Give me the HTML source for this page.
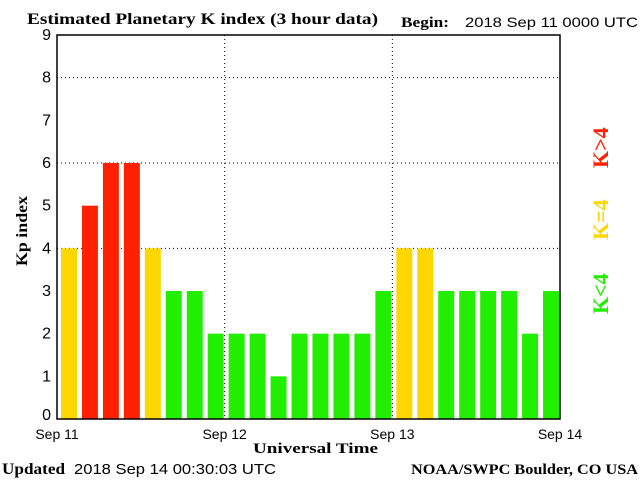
<!DOCTYPE html>
<html><head><meta charset="utf-8"><style>
body{margin:0;background:#fff;width:640px;height:480px;overflow:hidden}
svg text{font-family:"Liberation Sans",sans-serif}
.serif{font-family:"Liberation Serif",serif;font-weight:bold}
</style></head><body>
<svg id="chart" width="640" height="480" xmlns="http://www.w3.org/2000/svg">
<text class="serif" x="27" y="24" font-size="16" textLength="351" lengthAdjust="spacingAndGlyphs">Estimated Planetary K index (3 hour data)</text>
<text class="serif" x="401" y="27" font-size="15" textLength="48" lengthAdjust="spacingAndGlyphs">Begin:</text>
<text x="465" y="27" font-size="14" textLength="173" lengthAdjust="spacingAndGlyphs">2018 Sep 11 0000 UTC</text>
<g id="grid"></g>
<g id="bars"></g>
<rect x="57" y="35" width="503" height="384" fill="none" stroke="#000" stroke-width="1.5"/>
<g id="yticks"></g>
<g id="xticks"></g>
<text class="serif" transform="translate(27,231) rotate(-90)" text-anchor="middle" font-size="16" textLength="70" lengthAdjust="spacingAndGlyphs">Kp index</text>
<text class="serif" x="253" y="453" font-size="15" textLength="125" lengthAdjust="spacingAndGlyphs">Universal Time</text>
<text class="serif" x="2" y="474" font-size="16" textLength="63" lengthAdjust="spacingAndGlyphs">Updated</text>
<text x="74" y="474" font-size="15" textLength="202" lengthAdjust="spacingAndGlyphs">2018 Sep 14 00:30:03 UTC</text>
<text class="serif" x="411" y="474" font-size="15" textLength="227" lengthAdjust="spacingAndGlyphs">NOAA/SWPC Boulder, CO USA</text>
<text class="serif" transform="translate(608,168) rotate(-90)" fill="#ff2000" font-size="22">K&gt;4</text>
<text class="serif" transform="translate(608,240) rotate(-90)" fill="#ffd700" font-size="22">K=4</text>
<text class="serif" transform="translate(608,314) rotate(-90)" fill="#22ee00" font-size="22">K&lt;4</text>
</svg>
<script>
const kpValues=[4,5,6,6,4,3,3,2,2,2,1,2,2,2,2,3,4,4,3,3,3,3,2,3];
const yTickLabels=["0","1","2","3","4","5","6","7","8","9"];
const xTickLabels=["Sep 11","Sep 12","Sep 13","Sep 14"];
const gridLevels=[4,6,8];
const NS="http://www.w3.org/2000/svg";
const L=57,R=560,T=35,B=419;
const yS=v=>B-(v/9)*(B-T);
const xS=i=>L+(i/kpValues.length)*(R-L);
function mk(tag,attrs,parent){const e=document.createElementNS(NS,tag);for(const k in attrs)e.setAttribute(k,attrs[k]);parent.appendChild(e);return e;}
const grid=document.getElementById('grid');
gridLevels.forEach(g=>{const l=mk('line',{x1:L,x2:R,y1:yS(g),y2:yS(g),stroke:'#000','stroke-dasharray':'1,3'},grid);

});
[1,2].forEach(d=>{const x=L+d*(R-L)/3;const l=mk('line',{x1:x,x2:x,y1:T,y2:B,stroke:'#000','stroke-dasharray':'1,3'},grid);

});
const bars=document.getElementById('bars');
const w=(R-L)/kpValues.length;
kpValues.forEach((v,i)=>{const c=v>4?'#ff2000':(v==4?'#ffd700':'#22ee00');
const r=mk('rect',{x:xS(i)+4,y:yS(v),width:w-5,height:B-yS(v),fill:c},bars);

});
const yt=document.getElementById('yticks');
yTickLabels.forEach((t,i)=>{const e=mk('text',{x:51,y:yS(i)+5-(i==0?4:0),'text-anchor':'end','font-size':16},yt);e.textContent=t;

});
const xt=document.getElementById('xticks');
xTickLabels.forEach((t,i)=>{const e=mk('text',{x:L+i*(R-L)/3,y:439,'text-anchor':'middle','font-size':14},xt);e.textContent=t;

});
</script>
</body></html>
